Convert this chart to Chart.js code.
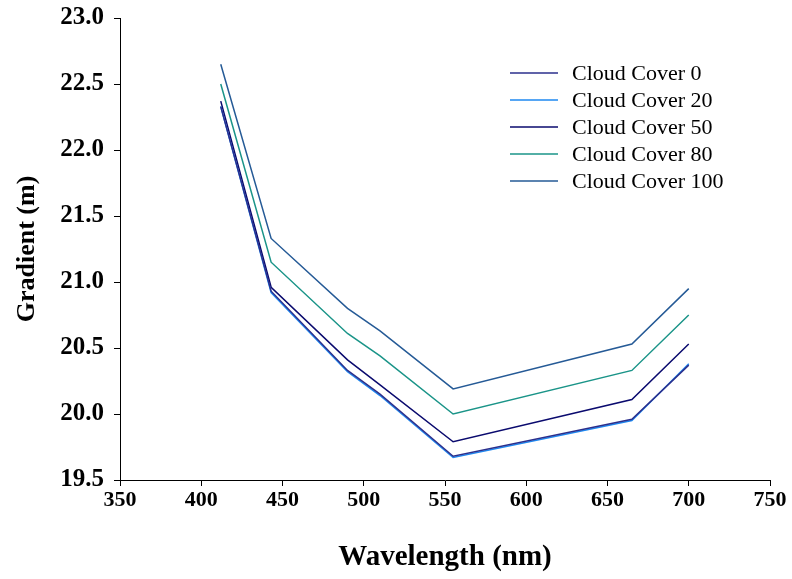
<!DOCTYPE html>
<html>
<head>
<meta charset="utf-8">
<script src="https://cdn.jsdelivr.net/npm/chart.js@4.4.0/dist/chart.umd.min.js"></script>
<style>
  html, body { margin: 0; padding: 0; background: #fff; }
  #wrap { width: 792px; height: 579px; }
</style>
</head>
<body>
<div id="wrap"><canvas id="gradChart" width="792" height="579"></canvas></div>
<script>
// wavelengths (nm) and gradient values (m) per cloud cover
const wavelengths = [412, 443, 490, 510, 555, 665, 700];
const cc0   = [22.33, 20.93, 20.33, 20.15, 19.68, 19.96, 20.37];
const cc20  = [22.33, 20.92, 20.32, 20.14, 19.67, 19.95, 20.38];
const cc50  = [22.37, 20.96, 20.41, 20.22, 19.79, 20.11, 20.53];
const cc80  = [22.50, 21.15, 20.61, 20.44, 20.00, 20.33, 20.75];
const cc100 = [22.65, 21.33, 20.80, 20.63, 20.19, 20.53, 20.95];

const seriesLabels = ['Cloud Cover 0', 'Cloud Cover 20', 'Cloud Cover 50', 'Cloud Cover 80', 'Cloud Cover 100'];
const seriesValues = [cc0, cc20, cc50, cc80, cc100];
const seriesColors = ['#2b2f8c', '#1e88f0', '#0a0a6e', '#1a9488', '#255a96'];

const serif = "'Liberation Serif', 'Times New Roman', serif";

function toPoints(vals) {
    return vals.map((v, i) => ({ x: wavelengths[i], y: v }));
}

// legend drawn inside the plot, upper right
const innerLegend = {
    id: 'innerLegend',
    afterDraw(chart) {
        const ctx = chart.ctx;
        ctx.save();
        ctx.font = '22px ' + serif;
        ctx.textBaseline = 'middle';
        chart.data.datasets.forEach((ds, i) => {
            const y = 73 + i * 27;
            ctx.strokeStyle = ds.borderColor;
            ctx.lineWidth = 1.5;
            ctx.beginPath();
            ctx.moveTo(510, y);
            ctx.lineTo(558, y);
            ctx.stroke();
            ctx.fillStyle = '#000';
            ctx.fillText(ds.label, 572, y + 1);
        });
        ctx.restore();
    }
};

function loadChart() {
    const ctx = document.getElementById('gradChart').getContext('2d');
    new Chart(ctx, {
        type: 'line',
        data: {
            datasets: seriesLabels.map((label, i) => ({
                label: label,
                data: toPoints(seriesValues[i]),
                borderColor: seriesColors[i],
                backgroundColor: seriesColors[i],
                borderWidth: 1.5,
                pointRadius: 0,
                tension: 0,
                fill: false
            }))
        },
        options: {
            responsive: false,
            animation: false,
            layout: { padding: { top: 18, right: 22, left: 0, bottom: 0 } },
            plugins: {
                legend: { display: false },
                tooltip: { enabled: false }
            },
            scales: {
                x: {
                    type: 'linear',
                    min: 350,
                    max: 750,
                    afterFit: s => { s.height = 99; s.paddingLeft = 0; s.paddingRight = 0; },
                    ticks: {
                        stepSize: 50,
                        color: '#000',
                        padding: 1,
                        maxRotation: 0,
                        font: { family: serif, size: 22, weight: 'bold' }
                    },
                    grid: { drawOnChartArea: false, drawTicks: true, tickLength: 6, tickColor: '#000' },
                    border: { display: true, color: '#000', width: 1 },
                    title: {
                        display: true,
                        text: 'Wavelength (nm)',
                        color: '#000',
                        padding: { top: 14 },
                        font: { family: serif, size: 29, weight: 'bold' }
                    }
                },
                y: {
                    min: 19.5,
                    max: 23,
                    afterFit: s => { s.width = 120; s.paddingTop = 0; s.paddingBottom = 0; },
                    ticks: {
                        stepSize: 0.5,
                        color: '#000',
                        padding: 10,
                        callback: v => v.toFixed(1),
                        font: { family: serif, size: 25, weight: 'bold' }
                    },
                    grid: { drawOnChartArea: false, drawTicks: true, tickLength: 6, tickColor: '#000' },
                    border: { display: true, color: '#000', width: 1 },
                    title: {
                        display: true,
                        text: 'Gradient (m)',
                        color: '#000',
                        padding: { top: 12, bottom: 2 },
                        font: { family: serif, size: 26, weight: 'bold' }
                    }
                }
            }
        },
        plugins: [innerLegend]
    });
}

window.onload = function() {
    loadChart();
};
</script>
</body>
</html>
